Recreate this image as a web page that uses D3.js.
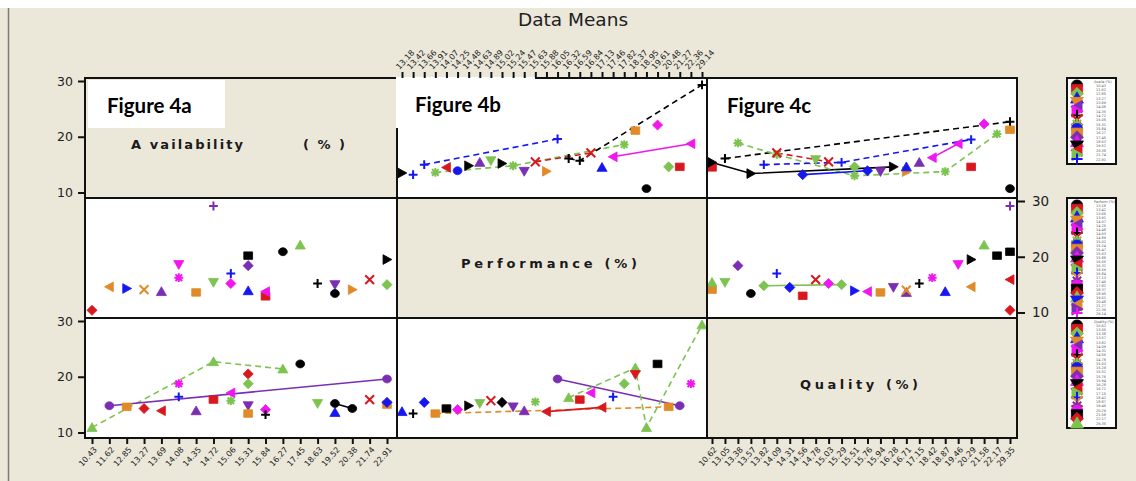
<!DOCTYPE html>
<html>
<head>
<meta charset="utf-8">
<script src="https://cdn.jsdelivr.net/npm/d3@7"></script>
<style>
  html, body { margin: 0; padding: 0; background: #ebe8da; }
  svg { display: block; }
</style>
</head>
<body>
<svg id="chart" width="1136" height="481"></svg>
<script>
// category labels on the three x axes
const availLabels = ['10.43', '11.62', '12.85', '13.27', '13.69', '14.08', '14.35', '14.72', '15.06',
  '15.31', '15.84', '16.27', '17.45', '18.63', '19.52', '20.38', '21.74', '22.91'];
const perfLabels = ['13.18', '13.42', '13.66', '13.91', '14.07', '14.25', '14.48', '14.63', '14.89',
  '15.02', '15.24', '15.47', '15.63', '15.88', '16.05', '16.32', '16.59', '16.84', '17.13', '17.46',
  '17.82', '18.37', '18.95', '19.61', '20.48', '21.27', '22.36', '29.14'];
const qualLabels = ['10.62', '13.05', '13.38', '13.57', '13.82', '14.09', '14.31', '14.56', '14.78',
  '15.03', '15.29', '15.51', '15.76', '15.94', '16.28', '16.71', '17.15', '18.42', '18.87', '19.46',
  '20.29', '21.58', '22.17', '29.35'];

const yTicks = [10, 20, 30];

// each entry: [group, [[category index, mean], ...]]
const availByPerf = [
  [56, [[0, 13.5]]], [17, [[1, 13.2]]], [17, [[2, 15.0], [14, 19.6]]],
  [9, [[3, 13.6], [10, 14.8], [20, 18.6]]], [15, [[4, 14.5]]], [10, [[5, 13.9]]],
  [56, [[6, 14.8]]], [33, [[7, 15.4]]], [44, [[8, 15.7]]], [56, [[9, 15.2]]],
  [54, [[11, 13.8]]], [8, [[12, 15.5], [17, 17.1]]], [46, [[13, 13.8]]],
  [7, [[15, 16.1], [16, 15.7], [27, 29.3]]], [3, [[18, 14.5]]],
  [55, [[19, 16.4], [26, 18.75]]], [11, [[21, 21.1]]], [0, [[22, 10.7]]],
  [62, [[23, 22.1]]], [2, [[24, 14.6]]], [1, [[25, 14.6]]]
];
const availByQual = [
  [1, [[0, 14.5]]], [56, [[0, 15.4], [3, 13.4], [14, 14.6]]], [7, [[1, 16.1], [23, 22.7]]],
  [9, [[2, 18.9], [5, 16.8], [11, 13.0], [18, 13.75], [22, 20.5]]], [44, [[8, 15.9]]],
  [8, [[5, 17.1], [9, 15.5]]], [17, [[4, 15.0], [10, 15.4], [20, 19.5]]],
  [52, [[7, 13.2], [12, 13.9]]], [2, [[11, 14.6]]], [54, [[13, 13.75]]],
  [46, [[15, 13.75]]], [3, [[15, 14.6]]], [33, [[16, 15.4]]],
  [55, [[17, 16.25], [19, 18.75]]], [62, [[21, 22.3]]], [1, [[20, 14.6]]],
  [11, [[23, 21.25]]], [0, [[23, 10.7]]]
];
const perfByAvail = [
  [22, [[0, 10.4]]], [25, [[1, 14.6]]], [66, [[2, 14.3]]], [18, [[3, 14.1]]],
  [33, [[4, 13.75]]], [34, [[5, 18.6]]], [69, [[5, 16.25]]], [11, [[6, 13.6]]],
  [47, [[7, 29.1]]], [44, [[7, 15.4]]], [17, [[8, 17.0]]], [62, [[8, 15.2]]],
  [12, [[9, 18.4]]], [21, [[9, 20.2]]], [3, [[9, 13.9]]], [1, [[10, 12.9]]],
  [55, [[10, 13.75]]], [0, [[11, 20.9]]], [23, [[12, 22.1]]], [7, [[13, 15.2]]],
  [54, [[14, 15.0]]], [0, [[14, 13.4]]], [46, [[15, 14.1]]], [8, [[16, 15.9]]],
  [2, [[17, 15.0]]], [56, [[17, 19.5]]]
];
const perfByQual = [
  [11, [[0, 14.1]]], [23, [[0, 15.4]]], [44, [[1, 15.4]]], [12, [[2, 18.4]]],
  [0, [[3, 13.4]]], [2, [[4, 14.8], [10, 15.0]]], [17, [[5, 17.0]]], [52, [[6, 14.5]]],
  [1, [[7, 13.0]]], [8, [[8, 15.9]]], [62, [[9, 15.2]]], [66, [[11, 13.9]]],
  [55, [[12, 13.75]]], [11, [[13, 13.6]]], [54, [[14, 14.5]]], [33, [[15, 13.6]]],
  [18, [[15, 14.0]]], [7, [[16, 15.2]]], [69, [[17, 16.25]]], [3, [[18, 13.75]]],
  [34, [[19, 18.6]]], [56, [[20, 19.5]]], [25, [[20, 14.6]]], [23, [[21, 22.1]]],
  [21, [[22, 20.2]]], [21, [[23, 20.9]]], [47, [[23, 29.1]]], [15, [[23, 15.9]]],
  [22, [[23, 10.4]]]
];
const qualByAvail = [
  [23, [[0, 10.9], [7, 22.7], [11, 21.4]]], [40, [[1, 14.8], [17, 19.6]]],
  [11, [[2, 14.6]]], [22, [[3, 14.3]]], [15, [[4, 13.9]]], [69, [[5, 18.75]]],
  [17, [[5, 16.4]]], [33, [[6, 13.9]]], [1, [[7, 15.9]]], [55, [[8, 17.1]]],
  [9, [[8, 15.7]]], [22, [[9, 20.5]]], [2, [[9, 18.75]]], [54, [[9, 14.8]]],
  [11, [[9, 13.4]]], [62, [[10, 14.1]]], [7, [[10, 13.2]]], [0, [[12, 22.3]]],
  [44, [[13, 15.2]]], [3, [[14, 13.6]]], [0, [[14, 15.2], [15, 14.3]]],
  [8, [[16, 15.9]]], [11, [[17, 15.0]]], [52, [[17, 15.4]]]
];
const qualByPerf = [
  [3, [[0, 13.75]]], [7, [[1, 13.4]]], [52, [[2, 15.4]]], [11, [[3, 13.4], [24, 14.6]]],
  [21, [[4, 14.3]]], [62, [[5, 14.1]]], [56, [[6, 14.8]]], [44, [[7, 15.2]]],
  [8, [[8, 15.7]]], [42, [[9, 15.4]]], [54, [[10, 14.6]]], [33, [[11, 13.9]]],
  [9, [[12, 15.5]]], [15, [[13, 13.75], [18, 14.5]]], [40, [[14, 19.6], [25, 14.8]]],
  [23, [[15, 16.25], [21, 21.6], [22, 10.9], [27, 29.3]]], [1, [[16, 15.9]]],
  [55, [[17, 17.1]]], [17, [[19, 16.4]]], [2, [[20, 18.75]]], [64, [[21, 20.4]]],
  [21, [[23, 22.3]]], [69, [[26, 18.75]]]
];

// ---- styling ----
const palette = ['#000000', '#d8181f', '#7dc350', '#1616f0', '#e08a28', '#7a2eb3', '#f016ef'];
const shapes = ['circle', 'square', 'diamond', 'up', 'down', 'left', 'right', 'plus', 'x', 'star'];
const dashedGroups = new Set([7, 8, 9, 11, 17, 23]);
const colorOf = (g) => palette[g % 7];
const shapeOf = (g) => shapes[g % 10];

function shapePath(name, s) {
  const t = s * 0.85;
  switch (name) {
    case 'circle': return `M${s},0A${s},${s * 0.9} 0 1,1 ${-s},0A${s},${s * 0.9} 0 1,1 ${s},0Z`;
    case 'square': return `M${-s},${-t}H${s}V${t}H${-s}Z`;
    case 'diamond': return `M0,${-s * 1.15}L${s * 1.15},0L0,${s * 1.15}L${-s * 1.15},0Z`;
    case 'up': return `M0,${-s * 1.1}L${s * 1.15},${s * 0.9}L${-s * 1.15},${s * 0.9}Z`;
    case 'down': return `M0,${s * 1.1}L${s * 1.15},${-s * 0.9}L${-s * 1.15},${-s * 0.9}Z`;
    case 'left': return `M${-s * 1.1},0L${s * 0.9},${-s * 1.1}L${s * 0.9},${s * 1.1}Z`;
    case 'right': return `M${s * 1.1},0L${-s * 0.9},${-s * 1.1}L${-s * 0.9},${s * 1.1}Z`;
    case 'plus': return `M${-s},0H${s}M0,${-s}V${s}`;
    case 'x': return `M${-s},${-s}L${s},${s}M${-s},${s}L${s},${-s}`;
    default: return `M${-s},0H${s}M0,${-s}V${s}M${-s * 0.75},${-s * 0.75}L${s * 0.75},${s * 0.75}M${-s * 0.75},${s * 0.75}L${s * 0.75},${-s * 0.75}`;
  }
}
const stroked = (name) => name === 'plus' || name === 'x' || name === 'star';

function drawMarker(sel, g, s) {
  const name = shapeOf(g);
  const c = colorOf(g);
  sel.append('path')
    .attr('d', shapePath(name, s))
    .attr('fill', stroked(name) ? 'none' : c)
    .attr('stroke', c)
    .attr('stroke-width', stroked(name) ? 2 : 0.8);
}

const svg = d3.select('#chart');
const font = "'DejaVu Sans', Verdana, sans-serif";

// page frame
svg.append('rect').attr('x', 0).attr('y', 0).attr('width', 1136).attr('height', 481).attr('fill', '#ebe8da');
svg.append('rect').attr('x', 0).attr('y', 0).attr('width', 1136).attr('height', 8).attr('fill', '#ffffff');
svg.append('line').attr('x1', 8.5).attr('x2', 8.5).attr('y1', 8).attr('y2', 481)
  .attr('stroke', '#7a7a7a').attr('stroke-width', 1.5);

svg.append('text').attr('x', 573).attr('y', 26).attr('text-anchor', 'middle')
  .attr('font-family', font).attr('font-size', 18.5).attr('fill', '#1e1e1e').text('Data Means');

const cols = [
  { x0: 85, x1: 397, labels: availLabels, range: [92, 387] },
  { x0: 397, x1: 707, labels: perfLabels, range: [402, 702] },
  { x0: 707, x1: 1017, labels: qualLabels, range: [712, 1010] }
];
const rows = [{ y0: 78, y1: 198 }, { y0: 198, y1: 318 }, { y0: 318, y1: 438 }];

const xScales = cols.map((c) => d3.scalePoint().domain(c.labels).range(c.range));
const yScales = rows.map((r) => d3.scaleLinear().domain([10, 30]).range([r.y1 - 5.5, r.y0 + 3]));

const panels = [
  [null, availByPerf, availByQual],
  [perfByAvail, null, perfByQual],
  [qualByAvail, qualByPerf, null]
];

const defs = svg.append('defs');

panels.forEach((rowPanels, ri) => {
  rowPanels.forEach((series, ci) => {
    const c = cols[ci];
    const r = rows[ri];
    const g = svg.append('g');
    g.append('rect').attr('x', c.x0).attr('y', r.y0).attr('width', c.x1 - c.x0).attr('height', r.y1 - r.y0)
      .attr('fill', series ? '#ffffff' : '#ebe8da');
    if (!series) return;
    const id = `clip-${ri}-${ci}`;
    defs.append('clipPath').attr('id', id).append('rect')
      .attr('x', c.x0).attr('y', r.y0).attr('width', c.x1 - c.x0).attr('height', r.y1 - r.y0);
    const inner = g.append('g').attr('clip-path', `url(#${id})`);
    const xs = xScales[ci];
    const ys = yScales[ri];
    const line = d3.line().x((p) => xs(c.labels[p[0]])).y((p) => ys(p[1]));
    series.filter((s) => s[1].length > 1).forEach(([grp, pts]) => {
      inner.append('path').attr('d', line(pts)).attr('fill', 'none')
        .attr('stroke', colorOf(grp)).attr('stroke-width', 1.6)
        .attr('stroke-dasharray', dashedGroups.has(grp) ? '6,4' : null);
    });
    series.forEach(([grp, pts]) => {
      pts.forEach((p) => {
        const m = inner.append('g').attr('transform', `translate(${xs(c.labels[p[0]])},${ys(p[1])})`);
        drawMarker(m, grp, 4.4);
      });
    });
  });
});

// white label boxes
svg.append('rect').attr('x', 88).attr('y', 80).attr('width', 137).attr('height', 48).attr('fill', '#ffffff');
svg.append('rect').attr('x', 396).attr('y', 77).attr('width', 139).attr('height', 51).attr('fill', '#ffffff');

// panel borders
rows.forEach((r, ri) => cols.forEach((c, ci) => {
  if (ri === 0 && ci === 1) {
    svg.append('path')
      .attr('d', `M535,${r.y0}H${c.x1}V${r.y1}H${c.x0}V128`)
      .attr('fill', 'none').attr('stroke', '#111').attr('stroke-width', 2);
    return;
  }
  if (ri === 0 && ci === 0) {
    svg.append('path')
      .attr('d', `M${c.x1},128V${r.y1}H${c.x0}V${r.y0}H${c.x1 - 1}`)
      .attr('fill', 'none').attr('stroke', '#111').attr('stroke-width', 2);
    return;
  }
  svg.append('rect').attr('x', c.x0).attr('y', r.y0).attr('width', c.x1 - c.x0).attr('height', r.y1 - r.y0)
    .attr('fill', 'none').attr('stroke', '#111').attr('stroke-width', 2);
}));

// diagonal variable names
const diag = svg.append('g').attr('font-family', font).attr('font-weight', 'bold')
  .attr('font-size', 13).attr('fill', '#1a1a1a').attr('lengthAdjust', 'spacing');
diag.append('text').attr('x', 131).attr('y', 149).attr('textLength', 112).text('A vailability');
diag.append('text').attr('x', 303).attr('y', 149).attr('textLength', 42).text('(%)');
diag.append('text').attr('x', 461).attr('y', 268).attr('textLength', 176).text('Performance (%)');
diag.append('text').attr('x', 800).attr('y', 389).attr('textLength', 118).text('Quality (%)');

// figure captions
const cap = svg.append('g').attr('font-family', "Lato, 'Open Sans', sans-serif").attr('font-weight', 'bold')
  .attr('font-size', 20.5).attr('fill', '#000');
cap.append('text').attr('x', 107).attr('y', 113).text('Figure 4a');
cap.append('text').attr('x', 415).attr('y', 112).text('Figure 4b');
cap.append('text').attr('x', 727).attr('y', 113).text('Figure 4c');

// axes
function styleTicks(ax) {
  ax.select('.domain').remove();
  ax.selectAll('.tick line').attr('stroke', '#111').attr('stroke-width', 2);
  ax.selectAll('text').attr('font-family', font).attr('fill', '#222');
}

svg.append('g').attr('transform', `translate(0,${rows[0].y0})`)
  .call(d3.axisTop(xScales[1]).tickSize(6).tickSizeOuter(0))
  .call(styleTicks)
  .call((ax) => ax.selectAll('text').attr('font-size', 8).attr('x', 0).attr('y', 0).attr('dy', 0)
    .attr('text-anchor', 'start').attr('transform', 'translate(-3,-8) rotate(-48)'));

[0, 2].forEach((ci) => {
  svg.append('g').attr('transform', `translate(0,${rows[2].y1})`)
    .call(d3.axisBottom(xScales[ci]).tickSize(6).tickSizeOuter(0))
    .call(styleTicks)
    .call((ax) => ax.selectAll('text').attr('font-size', 8).attr('x', 0).attr('y', 0).attr('dy', 0)
      .attr('text-anchor', 'end').attr('transform', 'translate(5,12) rotate(-48)'));
});

[0, 2].forEach((ri) => {
  svg.append('g').attr('transform', `translate(${cols[0].x0},0)`)
    .call(d3.axisLeft(yScales[ri]).tickValues(yTicks).tickSize(7).tickPadding(5))
    .call(styleTicks)
    .call((ax) => ax.selectAll('text').attr('font-size', 12.5));
});
svg.append('g').attr('transform', `translate(${cols[2].x1},0)`)
  .call(d3.axisRight(yScales[1]).tickValues(yTicks).tickSize(8).tickPadding(7))
  .call(styleTicks)
  .call((ax) => ax.selectAll('text').attr('font-size', 13.5));

// legends
const legendBoxes = [
  { y0: 78, y1: 164, labels: availLabels, title: 'Availa (%)' },
  { y0: 198, y1: 318, labels: perfLabels, title: 'Perform (%)' },
  { y0: 318, y1: 428, labels: qualLabels, title: 'Quality (%)' }
];
legendBoxes.forEach((b) => {
  const lg = svg.append('g');
  lg.append('rect').attr('x', 1067).attr('y', b.y0).attr('width', 49).attr('height', b.y1 - b.y0)
    .attr('fill', '#ffffff').attr('stroke', '#111').attr('stroke-width', 2);
  const ly = d3.scaleLinear().domain([0, b.labels.length - 1]).range([b.y0 + 7, b.y1 - 5]);
  lg.append('text').attr('x', 1094).attr('y', b.y0 + 5).attr('font-family', font)
    .attr('font-size', 3.5).attr('fill', '#555').text(b.title);
  b.labels.forEach((lab, i) => {
    const m = lg.append('g').attr('transform', `translate(1077,${ly(i)})`);
    drawMarker(m, i, 5.6);
    lg.append('text').attr('x', 1096).attr('y', ly(i) + 1.5).attr('font-family', font)
      .attr('font-size', 3.5).attr('fill', '#555').text(lab);
  });
});
</script>
</body>
</html>
